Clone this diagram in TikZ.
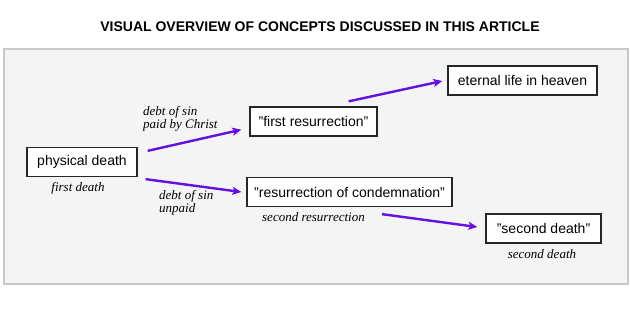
\documentclass[tikz,border=0pt]{standalone}
\usepackage{fontspec}
\setmainfont{Liberation Serif}
\setsansfont{Liberation Sans}
\usetikzlibrary{arrows.meta,calc}
\definecolor{flowc}{RGB}{102,16,224}
\definecolor{panelc}{RGB}{244,244,244}
\definecolor{framec}{RGB}{200,200,200}
\begin{document}
\begin{tikzpicture}[x=1pt,y=-1pt,
	concept/.style={draw=black!85, line width=1.3pt, fill=white, minimum height=29pt,
		inner xsep=0pt, font=\sffamily\fontsize{14}{16}\selectfont},
	note/.style={font=\itshape\fontsize{13}{13}\selectfont, align=left, inner sep=0pt},
	flow/.style={draw=flowc, line width=2.4pt, -{Stealth[length=9pt,width=8pt,inset=2pt]}}]

\useasboundingbox (0,0) rectangle (630,309);

\node[font=\sffamily\bfseries\fontsize{14}{16}\selectfont] (title) at (320,27) {VISUAL OVERVIEW OF CONCEPTS DISCUSSED IN THIS ARTICLE};

% Fond
\draw[draw=framec, fill=panelc, line width=1.5pt] (4,49) rectangle (628,284);

% Concepts
\node[concept, minimum width=110pt] (phys) at (82,162) {physical death};
\node[concept, minimum width=127pt] (firstres) at (313.5,121.5) {"first resurrection"};
\node[concept, minimum width=149pt] (eternal) at (522.5,80.5) {eternal life in heaven};
\node[concept, minimum width=205pt] (condem) at (349.5,192) {"resurrection of condemnation"};
\node[concept, minimum width=115pt] (secdeath) at (543.5,228.5) {"second death"};

% Notes
\node[note] (firstdeath) at ($(phys.south)+(-4,11)$) {first death};
\node[note, anchor=west] (paid) at (143,118.5) {debt of sin\\paid by Christ};
\node[note, anchor=west] (unpaid) at (159,203) {debt of sin\\unpaid};
\node[note] (secres) at ($(condem.south)+(-36,10)$) {second resurrection};
\node[note] (secdeathnote) at ($(secdeath.south)+(-1.5,10)$) {second death};

% Fleches
\draw[flow] ($(phys.north east)+(10,4)$) -- ($(firstres.south west)+(-8,-7)$);
\draw[flow] ($(phys.south east)+(8,2)$) -- ($(condem.west)+(-5,0)$);
\draw[flow] ($(firstres.north east)+(-29,-5)$) -- ($(eternal.west)+(-5,0.5)$);
\draw[flow] ($(condem.south)+(32.5,7)$) -- ($(secdeath.west)+(-8,-1.5)$);
\end{tikzpicture}
\end{document}
